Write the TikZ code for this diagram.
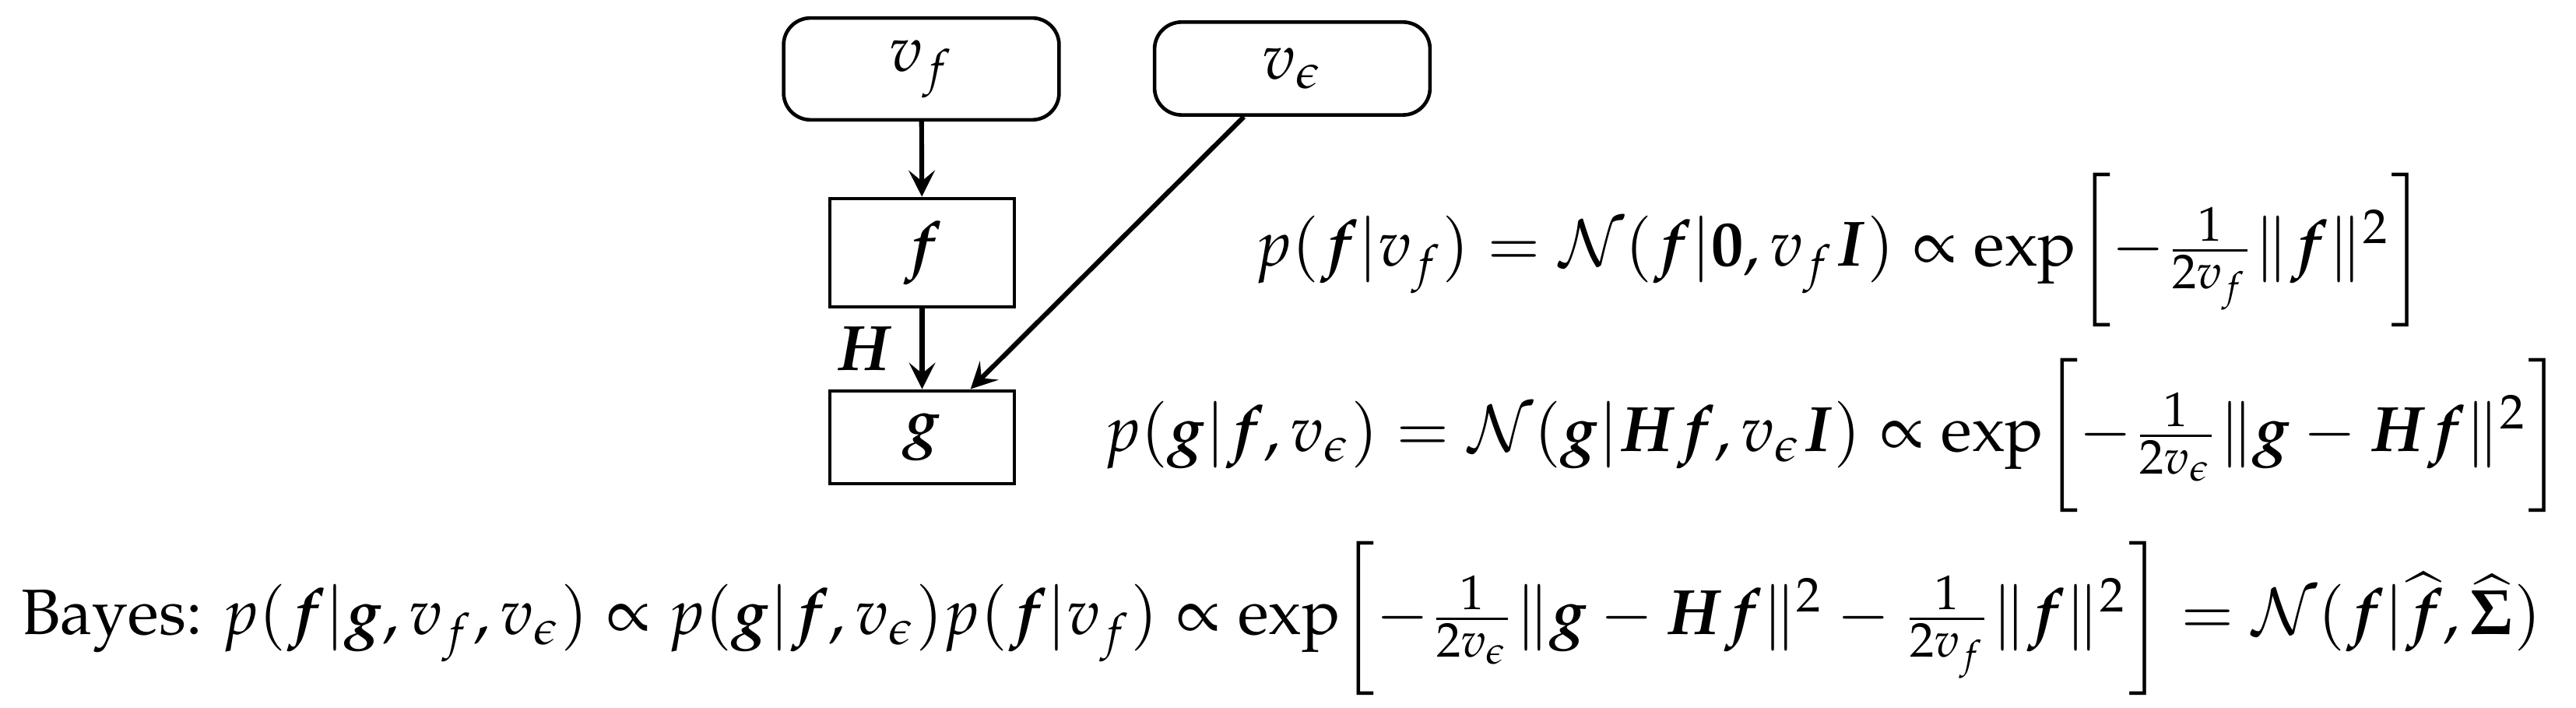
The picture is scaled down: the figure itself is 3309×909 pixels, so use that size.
\documentclass[tikz,border=0pt]{standalone}
\usepackage[T1]{fontenc}
\usepackage{amsmath}
\usepackage{mathpazo}
\usetikzlibrary{arrows.meta}
\begin{document}
\begin{tikzpicture}[x=0.13pt,y=-0.13pt,
  every node/.style={font=\fontsize{10.7}{12.8}\selectfont},
  varbox/.style={draw,rounded corners=4.5pt,line width=0.6pt,inner sep=0pt,minimum width=46pt},
  imgbox/.style={draw,line width=0.6pt,inner sep=0pt,minimum width=30.8pt},
  arr/.style={line width=0.8pt,-{Stealth[length=4.4pt,width=4.4pt,inset=1.8pt]}},
  eqn/.style={anchor=base west,inner sep=0pt}]
\useasboundingbox (0,0) rectangle (3309,909);
\node[varbox,minimum height=17pt] (vf) at (1183.5,88.5) {$v_f$};
\node[varbox,minimum height=15.5pt] (ve) at (1660,88) {$v_\epsilon$};
\node[imgbox,minimum height=18.1pt] (f) at (1184.5,324.5) {$\boldsymbol{f}$};
\node[imgbox,minimum height=15.5pt] (g) at (1184.5,561.5) {$\boldsymbol{g}$};
\draw[arr] (vf) -- (f);
\draw[arr] (f) -- node[left,inner sep=4.5pt] (H) {$\boldsymbol{H}$} (g);
\draw[arr] (ve) -- (g);
\node[eqn] (eq1) at (1610,342) {$p(\boldsymbol{f}|v_f) = \mathcal{N}(\boldsymbol{f}|\boldsymbol{0}, v_f\boldsymbol{I}) \propto \exp\biggl[-\tfrac{1}{2v_f}\|\boldsymbol{f}\|^2\biggr]$};
\node[eqn] (eq2) at (1416,580) {$p(\boldsymbol{g}|\boldsymbol{f}, v_\epsilon) = \mathcal{N}(\boldsymbol{g}|\boldsymbol{H}\boldsymbol{f}, v_\epsilon\boldsymbol{I}) \propto \exp\biggl[-\tfrac{1}{2v_\epsilon}\|\boldsymbol{g}-\boldsymbol{H}\boldsymbol{f}\|^2\biggr]$};
\node[eqn] (eq3) at (26,815) {Bayes: $p(\boldsymbol{f}|\boldsymbol{g}, v_f, v_\epsilon) \propto p(\boldsymbol{g}|\boldsymbol{f}, v_\epsilon)p(\boldsymbol{f}|v_f) \propto \exp\biggl[-\tfrac{1}{2v_\epsilon}\|\boldsymbol{g}-\boldsymbol{H}\boldsymbol{f}\|^2-\tfrac{1}{2v_f}\|\boldsymbol{f}\|^2\biggr] = \mathcal{N}(\boldsymbol{f}|\widehat{\boldsymbol{f}}, \widehat{\boldsymbol{\Sigma}})$};
\end{tikzpicture}
\end{document}
